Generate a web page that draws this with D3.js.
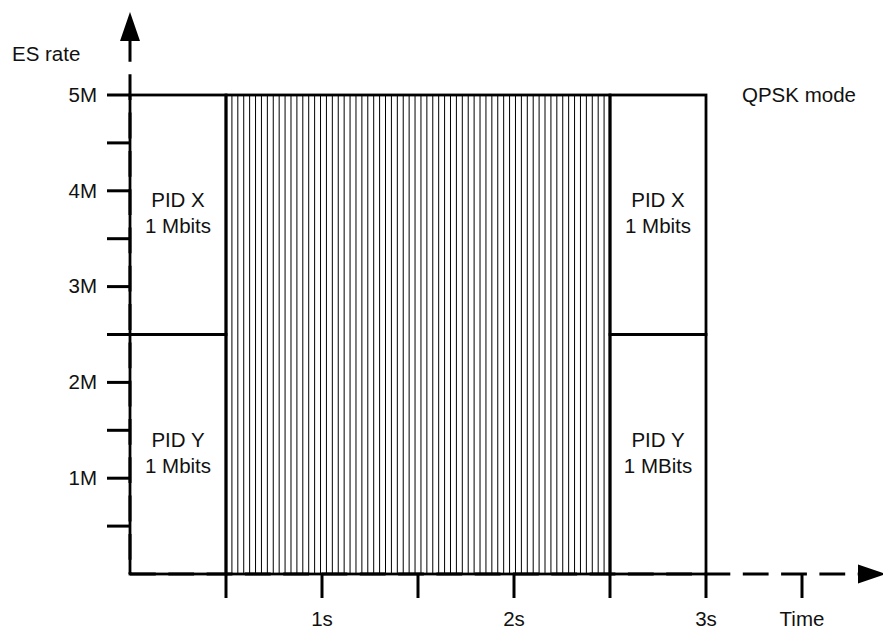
<!DOCTYPE html>
<html>
<head>
<meta charset="utf-8">
<script src="https://cdn.jsdelivr.net/npm/d3@7"></script>
<style>
  html, body { margin: 0; padding: 0; background: #fff; }
  svg text { font-family: "Liberation Sans", Arial, sans-serif; font-size: 20.5px; fill: #111; }
</style>
</head>
<body>
<div id="chart"></div>
<script>

// time ticks (seconds) and their labels
var timeTicks  = [0.5, 1, 1.5, 2, 2.5, 3, 3.5];
var timeLabels = ["", "1s", "", "2s", "", "3s", "Time"];

// rate ticks (Mbit/s) and their labels
var rateTicks  = [0.5, 1, 1.5, 2, 2.5, 3, 3.5, 4, 4.5, 5];
var rateLabels = ["", "1M", "", "2M", "", "3M", "", "4M", "", "5M"];

// PID blocks: start/end time, low/high rate, two text lines
var blockStart = [0, 0, 2.5, 2.5];
var blockEnd   = [0.5, 0.5, 3, 3];
var blockLow   = [2.5, 0, 2.5, 0];
var blockHigh  = [5, 2.5, 5, 2.5];
var blockName  = ["PID X", "PID Y", "PID X", "PID Y"];
var blockSize  = ["1 Mbits", "1 Mbits", "1 Mbits", "1 MBits"];

// the hatched (full rate) period
var fullStart = 0.5, fullEnd = 2.5, fullLow = 0, fullHigh = 5;

var width = 883, height = 631;

var x = d3.scaleLinear().domain([0, 3.5]).range([130, 802]);
var y = d3.scaleLinear().domain([0, 5]).range([574, 95]);

var svg = d3.select("#chart").append("svg")
    .attr("width", width)
    .attr("height", height);

// hatching
var hx0 = x(fullStart), hx1 = x(fullEnd);
var nHatch = 65;
svg.selectAll(".hatch")
    .data(d3.range(1, nHatch))
  .enter().append("line")
    .attr("class", "hatch")
    .attr("x1", function(i) { return hx0 + i * (hx1 - hx0) / nHatch; })
    .attr("x2", function(i) { return hx0 + i * (hx1 - hx0) / nHatch; })
    .attr("y1", y(fullHigh))
    .attr("y2", y(fullLow))
    .attr("stroke", "#000")
    .attr("stroke-width", 1);

svg.append("rect")
    .attr("x", x(fullStart))
    .attr("y", y(fullHigh))
    .attr("width", x(fullEnd) - x(fullStart))
    .attr("height", y(fullLow) - y(fullHigh))
    .attr("fill", "none")
    .attr("stroke", "#000")
    .attr("stroke-width", 2.8);

var blocks = blockStart.map(function(d, i) {
  return {t0: d, t1: blockEnd[i], r0: blockLow[i], r1: blockHigh[i],
          name: blockName[i], size: blockSize[i]};
});

svg.selectAll(".block")
    .data(blocks)
  .enter().append("rect")
    .attr("class", "block")
    .attr("x", function(d) { return x(d.t0); })
    .attr("y", function(d) { return y(d.r1); })
    .attr("width", function(d) { return x(d.t1) - x(d.t0); })
    .attr("height", function(d) { return y(d.r0) - y(d.r1); })
    .attr("fill", "none")
    .attr("stroke", "#000")
    .attr("stroke-width", 2.8);

svg.selectAll(".bname")
    .data(blocks)
  .enter().append("text")
    .attr("text-anchor", "middle")
    .attr("x", function(d) { return (x(d.t0) + x(d.t1)) / 2; })
    .attr("y", function(d) { return y(d.r1) + 112; })
    .text(function(d) { return d.name; });

svg.selectAll(".bsize")
    .data(blocks)
  .enter().append("text")
    .attr("text-anchor", "middle")
    .attr("x", function(d) { return (x(d.t0) + x(d.t1)) / 2; })
    .attr("y", function(d) { return y(d.r1) + 138; })
    .text(function(d) { return d.size; });

// AXES
// ========================
var dash = "25.8,12.5";

// y axis, dashed from under the arrow down to the origin
svg.append("line")
    .attr("x1", x(0)).attr("x2", x(0))
    .attr("y1", y(5) - 59).attr("y2", y(0))
    .attr("stroke", "#000")
    .attr("stroke-width", 3)
    .attr("stroke-dasharray", dash);

svg.append("path")
    .attr("d", "M" + x(0) + "," + (y(5) - 83) +
               "L" + (x(0) + 10) + "," + (y(5) - 54) +
               "L" + (x(0) - 10) + "," + (y(5) - 54) + "Z")
    .attr("fill", "#000");

// x axis
svg.append("line")
    .attr("x1", x(0)).attr("x2", x(3.5) + 56)
    .attr("y1", y(0)).attr("y2", y(0))
    .attr("stroke", "#000")
    .attr("stroke-width", 3)
    .attr("stroke-dasharray", dash);

svg.append("path")
    .attr("d", "M" + (x(3.5) + 84) + "," + y(0) +
               "L" + (x(3.5) + 56) + "," + (y(0) - 9.5) +
               "L" + (x(3.5) + 56) + "," + (y(0) + 9.5) + "Z")
    .attr("fill", "#000");

// x ticks
svg.selectAll(".xtick")
    .data(timeTicks)
  .enter().append("line")
    .attr("x1", function(d) { return x(d); })
    .attr("x2", function(d) { return x(d); })
    .attr("y1", y(0))
    .attr("y2", y(0) + 24)
    .attr("stroke", "#000")
    .attr("stroke-width", 3);

svg.selectAll(".xlabel")
    .data(timeTicks)
  .enter().append("text")
    .attr("text-anchor", "middle")
    .attr("x", function(d) { return x(d); })
    .attr("y", y(0) + 52)
    .text(function(d, i) { return timeLabels[i]; });

// y ticks
svg.selectAll(".ytick")
    .data(rateTicks)
  .enter().append("line")
    .attr("x1", x(0) - 23)
    .attr("x2", x(0))
    .attr("y1", function(d) { return y(d); })
    .attr("y2", function(d) { return y(d); })
    .attr("stroke", "#000")
    .attr("stroke-width", 3);

svg.selectAll(".ylabel")
    .data(rateTicks)
  .enter().append("text")
    .attr("text-anchor", "end")
    .attr("x", x(0) - 33)
    .attr("y", function(d) { return y(d); })
    .attr("dy", "0.33em")
    .text(function(d, i) { return rateLabels[i]; });

// TITLES
svg.append("text")
    .attr("x", x(0) - 118)
    .attr("y", y(5) - 34)
    .text("ES rate");

svg.append("text")
    .attr("x", x(3) + 36)
    .attr("y", y(5))
    .attr("dy", "0.33em")
    .text("QPSK mode");

</script>
</body>
</html>
